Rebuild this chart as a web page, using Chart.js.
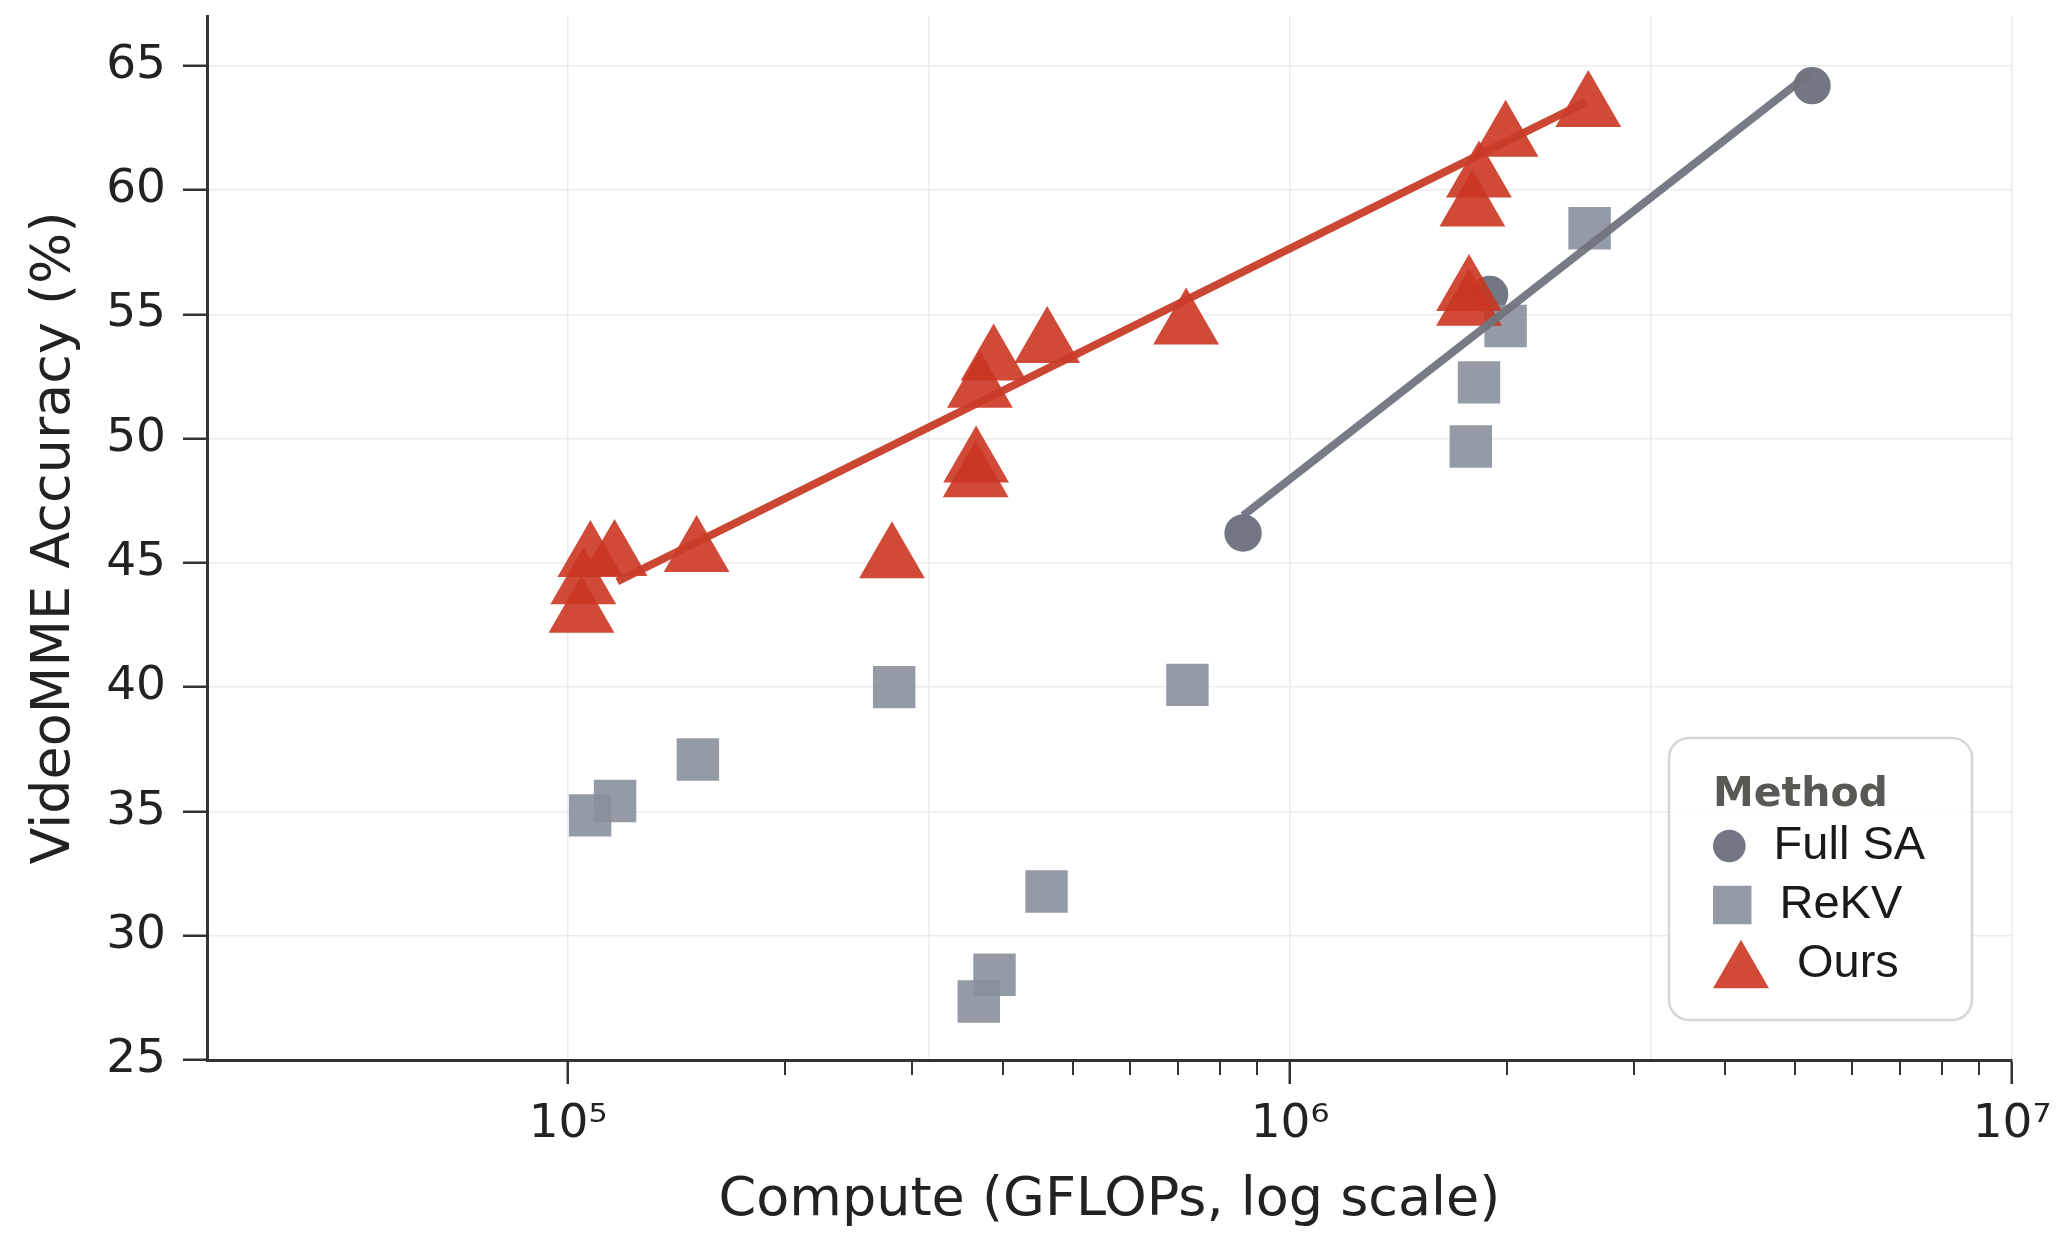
<!DOCTYPE html>
<html>
<head>
<meta charset="utf-8">
<title>VideoMME accuracy vs compute</title>
<script src="https://cdn.jsdelivr.net/npm/chart.js"></script>
<style>
  html, body { margin: 0; padding: 0; background: #fff; }
  canvas { display: block; }
</style>
</head>
<body>
<canvas id="computeChart" width="2059" height="1234"></canvas>
<script>
// series names, as in the legend
const methodNames = ['Full SA', 'ReKV', 'Ours'];

// Full SA (circles)
const fullSaCompute = [8.61e5, 1.89e6, 5.285e6];
const fullSaAcc = [46.2, 55.8, 64.2];

// ReKV (squares)
const rekvCompute = [1.073e5, 1.162e5, 1.513e5, 2.83e5, 3.706e5, 3.897e5, 4.6e5, 7.21e5, 1.78e6, 1.827e6, 1.989e6, 2.6e6];
const rekvAcc = [34.84, 35.42, 37.09, 40.0, 27.35, 28.43, 31.78, 40.09, 49.68, 52.26, 54.53, 58.46];

// Ours (triangles)
const oursCompute = [1.044e5, 1.05e5, 1.074e5, 1.16e5, 1.507e5, 2.81e5, 3.67e5, 3.675e5, 3.72e5, 3.886e5, 4.61e5, 7.18e5, 1.77e6, 1.77e6, 1.789e6, 1.827e6, 1.989e6, 2.589e6];
const oursAcc = [42.95, 44.1, 45.2, 45.24, 45.4, 45.15, 48.4, 49.0, 52.0, 53.1, 53.8, 54.55, 55.3, 55.9, 59.3, 60.46, 62.1, 63.3];

// fitted trend lines (end points)
const fullSaFitCompute = [8.61e5, 5.285e6];
const fullSaFitAcc = [46.9, 64.75];
const oursFitCompute = [1.17e5, 2.57e6];
const oursFitAcc = [44.25, 63.54];

// axes
const xMin = Math.pow(10, 4.5);
const xMax = 1e7;
const xGridValues = [1e5, Math.pow(10, 5.5), 1e6, Math.pow(10, 6.5), 1e7];
const xTickValues = [1e5, 1e6, 1e7];
const xTickLabels = ['10\u2075', '10\u2076', '10\u2077'];
const xMinorTicks = [2e5, 3e5, 4e5, 5e5, 6e5, 7e5, 8e5, 9e5, 2e6, 3e6, 4e6, 5e6, 6e6, 7e6, 8e6, 9e6];
const yTickValues = [25, 30, 35, 40, 45, 50, 55, 60, 65];

const circleColor = 'rgba(99,104,117,0.9)';
const squareColor = 'rgba(138,144,156,0.9)';
const triangleColor = 'rgba(203,54,33,0.9)';
const axisColor = '#333333';
const gridColor = '#ebebeb';
const textColor = '#222222';

function toPoints(xs, ys) {
  return xs.map((x, i) => ({ x: x, y: ys[i] }));
}

function drawMarker(ctx, style, cx, cy, r) {
  ctx.beginPath();
  if (style === 'circle') {
    ctx.arc(cx, cy, r, 0, Math.PI * 2);
  } else if (style === 'rect') {
    const s = r * Math.SQRT1_2;
    ctx.rect(cx - s, cy - s, 2 * s, 2 * s);
  } else {
    for (let k = 0; k < 3; k++) {
      const a = k * 2 * Math.PI / 3;
      const px = cx + Math.sin(a) * r;
      const py = cy - Math.cos(a) * r;
      if (k === 0) ctx.moveTo(px, py); else ctx.lineTo(px, py);
    }
    ctx.closePath();
  }
  ctx.fill();
}

// short minor ticks on the log axis
const minorTickPlugin = {
  id: 'minorTicks',
  afterDraw(chart) {
    const ctx = chart.ctx;
    const x = chart.scales.x;
    ctx.save();
    ctx.strokeStyle = axisColor;
    ctx.lineWidth = 2;
    xMinorTicks.forEach(v => {
      const px = Math.round(x.getPixelForValue(v));
      ctx.beginPath();
      ctx.moveTo(px, x.top);
      ctx.lineTo(px, x.top + 15);
      ctx.stroke();
    });
    ctx.restore();
  }
};

// boxed legend inside the plot, bottom right
const methodLegendPlugin = {
  id: 'methodLegend',
  afterDraw(chart) {
    const ctx = chart.ctx;
    const area = chart.chartArea;
    const w = 303, h = 282, rad = 20;
    const left = area.right - 343;
    const top = area.bottom - 322;

    ctx.save();
    ctx.beginPath();
    ctx.moveTo(left + rad, top);
    ctx.lineTo(left + w - rad, top);
    ctx.arcTo(left + w, top, left + w, top + rad, rad);
    ctx.lineTo(left + w, top + h - rad);
    ctx.arcTo(left + w, top + h, left + w - rad, top + h, rad);
    ctx.lineTo(left + rad, top + h);
    ctx.arcTo(left, top + h, left, top + h - rad, rad);
    ctx.lineTo(left, top + rad);
    ctx.arcTo(left, top, left + rad, top, rad);
    ctx.closePath();
    ctx.fillStyle = 'rgba(255,255,255,0.95)';
    ctx.fill();
    ctx.strokeStyle = '#d6d6d6';
    ctx.lineWidth = 2.5;
    ctx.stroke();

    ctx.fillStyle = '#5a5855';
    ctx.font = 'bold 41px "DejaVu Sans"';
    ctx.textAlign = 'left';
    ctx.textBaseline = 'alphabetic';
    ctx.fillText('Method', left + 44, top + 68);

    const styles = ['circle', 'rect', 'triangle'];
    const colors = [circleColor, squareColor, triangleColor];
    const radii = [16.3, 27.2, 32.3];
    const halfWidths = [16.3, 19.25, 28];
    ctx.font = '47px "Liberation Sans"';
    ctx.textBaseline = 'middle';
    methodNames.forEach((name, i) => {
      const rowY = top + 108 + i * 59;
      const cx = left + 44 + halfWidths[i];
      const cy = styles[i] === 'triangle' ? rowY + radii[i] / 4 : rowY;
      ctx.fillStyle = colors[i];
      drawMarker(ctx, styles[i], cx, cy, radii[i]);
      ctx.fillStyle = '#1a1a1a';
      ctx.fillText(name, cx + halfWidths[i] + 28, rowY);
    });
    ctx.restore();
  }
};

const tickFont = { family: 'DejaVu Sans', size: 47, lineHeight: 1.2 };
const titleFont = { family: 'DejaVu Sans', size: 54, lineHeight: 1 };

new Chart(document.getElementById('computeChart'), {
  type: 'scatter',
  data: {
    datasets: [
      {
        label: methodNames[0] + ' fit',
        data: toPoints(fullSaFitCompute, fullSaFitAcc),
        showLine: true,
        borderColor: 'rgba(112,116,128,0.95)',
        borderWidth: 8,
        pointRadius: 0,
        order: 0
      },
      {
        label: methodNames[2] + ' fit',
        data: toPoints(oursFitCompute, oursFitAcc),
        showLine: true,
        borderColor: 'rgba(200,60,40,0.95)',
        borderWidth: 8,
        pointRadius: 0,
        order: 1
      },
      {
        label: methodNames[2],
        data: toPoints(oursCompute, oursAcc),
        pointStyle: 'triangle',
        pointRadius: 38,
        backgroundColor: triangleColor,
        borderWidth: 0,
        order: 2
      },
      {
        label: methodNames[1],
        data: toPoints(rekvCompute, rekvAcc),
        pointStyle: 'rect',
        pointRadius: 30,
        backgroundColor: squareColor,
        borderWidth: 0,
        order: 3
      },
      {
        label: methodNames[0],
        data: toPoints(fullSaCompute, fullSaAcc),
        pointStyle: 'circle',
        pointRadius: 18.7,
        backgroundColor: circleColor,
        borderWidth: 0,
        order: 4
      }
    ]
  },
  options: {
    responsive: false,
    animation: false,
    devicePixelRatio: 1,
    events: [],
    layout: { autoPadding: false, padding: { top: 16, right: 47, left: 0, bottom: 0 } },
    plugins: {
      legend: { display: false },
      tooltip: { enabled: false }
    },
    scales: {
      x: {
        type: 'logarithmic',
        min: xMin,
        max: xMax,
        afterBuildTicks: (scale) => { scale.ticks = xGridValues.map(v => ({ value: v })); },
        afterFit: (scale) => {
          scale.height = 174;
          scale.paddingLeft = 0;
          scale.paddingRight = 0;
        },
        ticks: {
          autoSkip: false,
          maxRotation: 0,
          padding: 13,
          color: textColor,
          font: tickFont,
          callback: (value) => {
            const i = xTickValues.indexOf(value);
            return i >= 0 ? xTickLabels[i] : '';
          }
        },
        grid: {
          color: gridColor,
          lineWidth: 1.5,
          tickLength: 24,
          tickWidth: 2.5,
          tickColor: (c) => (c.tick && xTickValues.indexOf(c.tick.value) >= 0) ? axisColor : 'rgba(0,0,0,0)'
        },
        border: { color: axisColor, width: 3 },
        title: {
          display: true,
          text: 'Compute (GFLOPs, log scale)',
          color: textColor,
          font: titleFont,
          padding: { top: 0, bottom: 6 }
        }
      },
      y: {
        min: 25,
        max: 67,
        afterBuildTicks: (scale) => { scale.ticks = yTickValues.map(v => ({ value: v })); },
        afterFit: (scale) => {
          scale.width = 207;
          scale.paddingTop = 0;
          scale.paddingBottom = 0;
        },
        ticks: {
          padding: 17,
          color: textColor,
          font: tickFont,
          callback: (value) => String(value)
        },
        grid: {
          color: gridColor,
          lineWidth: 1.5,
          tickLength: 24,
          tickWidth: 2.5,
          tickColor: axisColor
        },
        border: { color: axisColor, width: 3 },
        title: {
          display: true,
          text: 'VideoMME Accuracy (%)',
          color: textColor,
          font: titleFont,
          padding: { top: 28, bottom: 0 }
        }
      }
    }
  },
  plugins: [minorTickPlugin, methodLegendPlugin]
});
</script>
</body>
</html>
